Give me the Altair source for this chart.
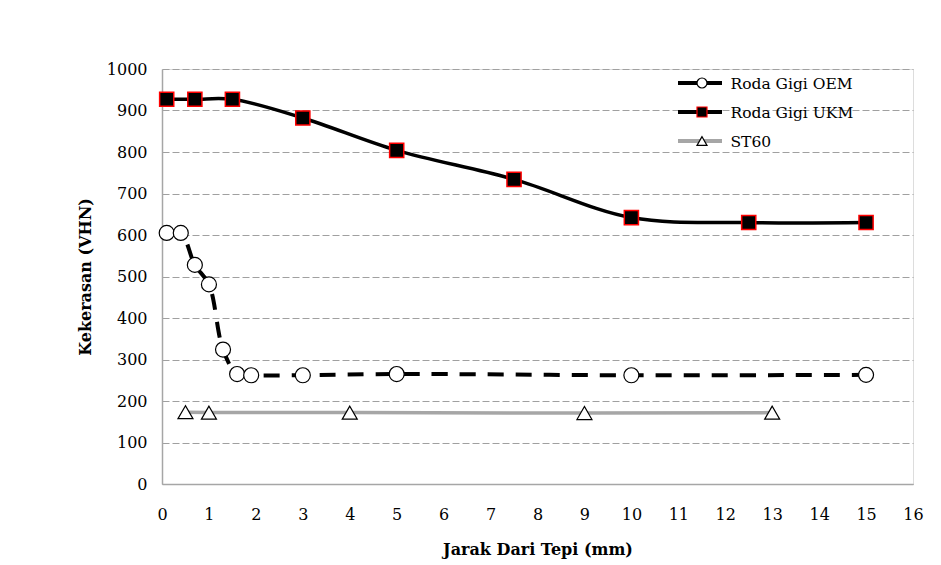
import altair as alt
import pandas as pd

# ---- data ----
oem_x = [0.1, 0.4, 0.7, 1.0, 1.3, 1.6, 1.9, 3, 5, 10, 15]
oem_y = [605, 605, 528, 481, 324, 265, 262, 262, 265, 262, 263]

ukm_x = [0.1, 0.7, 1.5, 3, 5, 7.5, 10, 12.5, 15]
ukm_y = [927, 927, 927, 882, 804, 734, 642, 630, 630]

st_x = [0.5, 1, 4, 9, 13]
st_y = [173, 172, 172, 171, 172]

series_names = ["Roda Gigi OEM", "Roda Gigi UKM", "ST60"]
x_ticks = list(range(0, 17))
y_ticks = list(range(0, 1001, 100))

FONT = "DejaVu Serif"

oem = pd.DataFrame({"x": oem_x, "y": oem_y})
ukm = pd.DataFrame({"x": ukm_x, "y": ukm_y})
st = pd.DataFrame({"x": st_x, "y": st_y})

xs = alt.Scale(domain=[0, 16], nice=False, zero=False)
ys = alt.Scale(domain=[0, 1000], nice=False)

X = alt.X("x:Q", scale=xs, axis=alt.Axis(
    values=x_ticks, format="d", title="Jarak Dari Tepi (mm)", grid=False, ticks=False,
    labelFlush=False,
    labelPadding=22, labelFontSize=16, labelFont=FONT, labelColor="#000",
    domainColor="#A6A6A6", domainWidth=1.5,
    titleFont=FONT, titleFontSize=16, titleFontWeight="bold", titleColor="#000",
    titleY=65, titleBaseline="middle"))
Y = alt.Y("y:Q", scale=ys, axis=alt.Axis(
    values=y_ticks, format="d", title="Kekerasan (VHN)", grid=True, ticks=False,
    gridColor="#A0A0A0", gridDash=[7, 3], gridWidth=1,
    labelPadding=15, labelFontSize=16, labelFont=FONT, labelColor="#000",
    domainColor="#A6A6A6", domainWidth=1.5,
    titleFont=FONT, titleFontSize=16, titleFontWeight="bold", titleColor="#000",
    titleX=-77, titleBaseline="middle"))

st_line = alt.Chart(st).mark_line(color="#A6A6A6", strokeWidth=3.5).encode(x=X, y=Y)
st_pts = alt.Chart(st).mark_point(shape="triangle-up", size=225, filled=True,
                                  fill="white", stroke="black", strokeWidth=1.2,
                                  opacity=1).encode(x=X, y=Y)

oem_line = alt.Chart(oem).mark_line(color="black", strokeWidth=4,
                                    strokeDash=[16, 12], interpolate="catmull-rom").encode(x=X, y=Y)
oem_pts = alt.Chart(oem).mark_point(shape="circle", size=225, filled=True,
                                    fill="white", stroke="black", strokeWidth=1.2,
                                    opacity=1).encode(x=X, y=Y)

ukm_line = alt.Chart(ukm).mark_line(color="black", strokeWidth=3.5,
                                    interpolate="catmull-rom").encode(x=X, y=Y)
ukm_pts = alt.Chart(ukm).mark_point(shape="square", size=200, filled=True,
                                    fill="black", stroke="#FF0000", strokeWidth=1.5,
                                    opacity=1).encode(x=X, y=Y)

main = alt.layer(st_line, st_pts, oem_line, oem_pts, ukm_line, ukm_pts)

# ---- manual legend (labels drawn by an inner axis so the serif font applies) ----
leg = pd.DataFrame({"label": series_names,
                    "row": [0, 1, 2],
                    "stroke": ["black", "black", "#A6A6A6"],
                    "shape": ["circle", "square", "triangle-up"],
                    "fill": ["white", "black", "white"],
                    "mstroke": ["black", "#FF0000", "black"]})
label_expr = "[" + ",".join("'" + s + "'" for s in series_names) + "][datum.value]"
LY = alt.Y("row:Q", scale=alt.Scale(domain=[0, 2], range=[14, 72], nice=False, zero=False),
           axis=alt.Axis(orient="right", offset=-183, values=[0, 1, 2], labelExpr=label_expr,
                         domain=False, ticks=False, grid=False, title=None,
                         labelPadding=0, labelAlign="left", labelBaseline="middle",
                         labelFont=FONT, labelFontSize=15.5, labelColor="#000"))

leg_line = alt.Chart(leg).mark_rule(strokeWidth=4).encode(
    x=alt.value(516), x2=alt.value(560), y=LY,
    color=alt.Color("stroke:N", scale=None, legend=None))
leg_pts = alt.Chart(leg).mark_point(size=100, filled=True, opacity=1, strokeWidth=1.2).encode(
    x=alt.value(540), y=LY,
    shape=alt.Shape("shape:N", scale=None, legend=None),
    fill=alt.Fill("fill:N", scale=None, legend=None),
    stroke=alt.Stroke("mstroke:N", scale=None, legend=None))

legend = alt.layer(leg_line, leg_pts)

chart = alt.layer(main, legend).resolve_scale(y="independent").properties(
    width=751, height=415,
    autosize=alt.AutoSizeParams(type="none"),
    padding={"left": 154, "top": 61, "right": 20, "bottom": 75},
).configure_view(strokeWidth=0).configure(background="white", font=FONT)

chart.save("out.html", embed_options={"renderer": "svg", "actions": False})
